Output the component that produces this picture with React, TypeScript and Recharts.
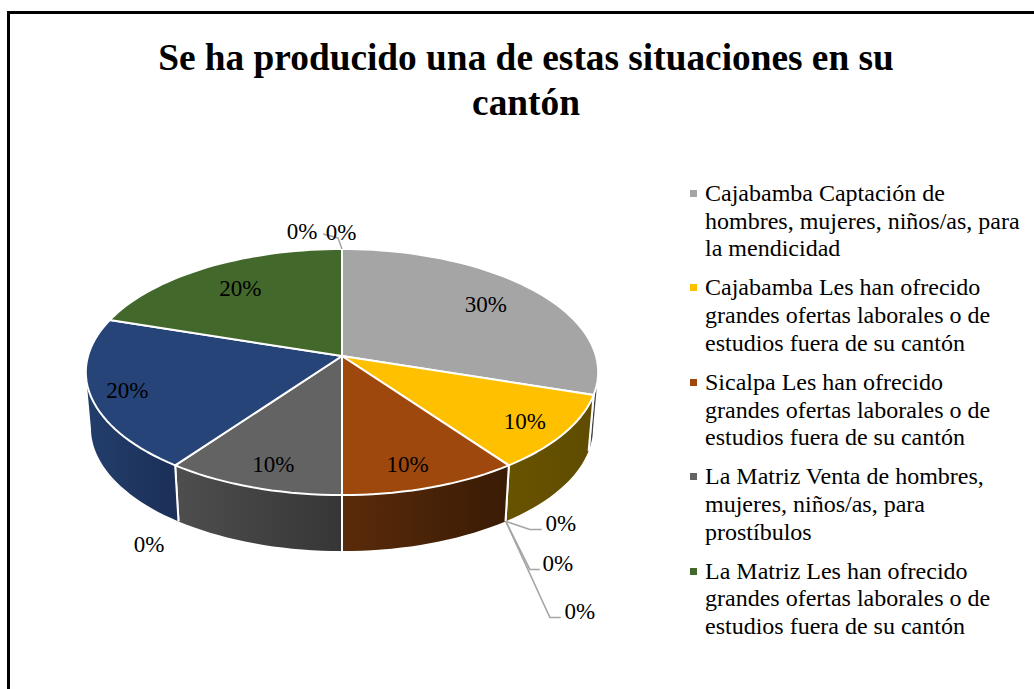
import { Legend, Pie, PieChart } from "recharts";

const categories = [
  "Cajabamba Captación de\nhombres, mujeres, niños/as, para\nla mendicidad",
  "Cajabamba Les han ofrecido\ngrandes ofertas laborales o de\nestudios fuera de su cantón",
  "Cajabamba Venta de hombres",
  "Sicalpa Captación de hombres",
  "Sicalpa Venta de hombres",
  "Sicalpa Les han ofrecido\ngrandes ofertas laborales o de\nestudios fuera de su cantón",
  "La Matriz Venta de hombres,\nmujeres, niños/as, para\nprostíbulos",
  "La Matriz Captación de hombres",
  "Guamote Captación de hombres",
  "La Matriz Les han ofrecido\ngrandes ofertas laborales o de\nestudios fuera de su cantón",
  "Guamote Venta de hombres",
  "Guamote Les han ofrecido",
];
const values = [30, 10, 0, 0, 0, 10, 10, 0, 20, 20, 0, 0];
const colors = [
  "#a5a5a5", "#ffc000", "#a5a5a5", "#a5a5a5", "#a5a5a5", "#9e480e",
  "#636363", "#a5a5a5", "#264478", "#43682b", "#a5a5a5", "#a5a5a5",
];
const wallLeft = [
  "#4a4a50", "#685300", "#000", "#000", "#000", "#5a2b0a",
  "#4e4e4e", "#000", "#233e6c", "#000", "#000", "#000",
];
const wallRight = [
  "#3f3f44", "#5f4c00", "#000", "#000", "#000", "#391b05",
  "#363636", "#000", "#1b2f57", "#000", "#000", "#000",
];
// slices named in the original legend (the blue one is missing there)
const legendIndexes = [0, 1, 5, 6, 9];

const data = categories.map((name, i) => ({ name, value: values[i], fill: colors[i] }));

const CX = 342;
const CY = 356;
const RADIUS = 254;
const FLATTEN = 121 / RADIUS;
const PERSPECTIVE = 0.13;
const DEPTH = 56;
const BOTTOM_SCALE = 0.98;
// angles where the drum's side leaves the silhouette
const RIGHT_EDGE = -7.5;
const LEFT_EDGE = -172.5;

// how far out along the slice the percent label sits, and a small nudge
const labelReach: Record<number, number> = { 0: 0.75, 1: 0.85, 5: 0.84, 6: 0.84, 8: 0.85, 9: 0.75 };
const labelNudge: Record<number, number[]> = {
  0: [-2, -1],
  1: [-4, 1],
  5: [-8, 1],
  6: [5, 1],
  8: [-2, 2],
  9: [2, 1],
};
// zero labels: offset from the rim, plus an optional leader line
const zeroLabels: Record<number, { dx: number; dy: number; leader?: number[][] }> = {
  2: { dx: 52, dy: 58, leader: [[-3, 56], [21, 64], [33, 64]] },
  3: { dx: 49, dy: 98, leader: [[-3, 56], [21, 104], [31, 104]] },
  4: { dx: 71, dy: 146, leader: [[-3, 56], [41, 152], [52, 152]] },
  7: { dx: -26, dy: 79 },
  10: { dx: -40, dy: -17 },
  11: { dx: -1, dy: -16, leader: [[0, 0], [-4, -11], [-19, -15]] },
};

// disc point, a = recharts angle (90 is the top, going down is clockwise)
function project(cx: number, cy: number, r: number, a: number, reach = 1) {
  const rad = (a * Math.PI) / 180;
  const u = Math.cos(rad) * reach;
  const v = -Math.sin(rad) * reach;
  const k = 1 / (1 - PERSPECTIVE * v);
  return { x: cx + r * u * k, y: cy + r * FLATTEN * v * k };
}

function arcPoints(cx: number, cy: number, r: number, from: number, to: number) {
  const steps = Math.max(2, Math.ceil(Math.abs(to - from) / 2));
  const pts = [];
  for (let i = 0; i <= steps; i++) {
    pts.push(project(cx, cy, r, from + ((to - from) * i) / steps));
  }
  return pts;
}

function toPath(pts: { x: number; y: number }[]) {
  return pts.map((p, i) => `${i ? "L" : "M"}${p.x.toFixed(1)} ${p.y.toFixed(1)}`).join(" ");
}

function TopFace(props: any) {
  const { cx, cy, outerRadius, startAngle, endAngle, fill } = props;
  if (startAngle === endAngle) return null;
  const pts = arcPoints(cx, cy, outerRadius, startAngle, endAngle);
  return <path d={`M${cx} ${cy} ${toPath(pts).replace("M", "L")} Z`} fill={fill} stroke="#fff" strokeWidth={2} strokeLinejoin="round" />;
}

function WallFace(props: any) {
  const { cx, cy, outerRadius, startAngle, endAngle, index } = props;
  // only the front of the drum shows
  const from = Math.min(startAngle, RIGHT_EDGE);
  const to = Math.max(endAngle, LEFT_EDGE);
  if (startAngle === endAngle || from <= to) return null;
  const top = arcPoints(cx, cy, outerRadius, from, to);
  const bottom = top.map((p) => ({ x: cx + (p.x - cx) * BOTTOM_SCALE, y: p.y + DEPTH }));
  const id = `wall-${index}`;
  const seam = (i: number) => (
    <line x1={top[i].x} y1={top[i].y} x2={bottom[i].x} y2={bottom[i].y} stroke="#fff" strokeWidth={2} />
  );
  return (
    <g>
      <defs>
        <linearGradient id={id} x1="0" y1="0" x2="1" y2="0">
          <stop offset="0%" stopColor={wallLeft[index]} />
          <stop offset="100%" stopColor={wallRight[index]} />
        </linearGradient>
      </defs>
      <path d={`${toPath(top)} ${toPath([...bottom].reverse()).replace("M", "L")} Z`} fill={`url(#${id})`} />
      {from === startAngle ? seam(0) : null}
      {to === endAngle ? seam(top.length - 1) : null}
    </g>
  );
}

function PercentLabel(props: any) {
  const { cx, cy, outerRadius, midAngle, index, percent } = props;
  const text = `${Math.round(percent * 100)}%`;
  const zero = zeroLabels[index];
  let x;
  let y;
  let leader = null;
  if (zero) {
    const rim = project(cx, cy, outerRadius, midAngle);
    x = rim.x + zero.dx;
    y = rim.y + zero.dy;
    if (zero.leader) {
      const line = zero.leader.map(([dx, dy]) => `${rim.x + dx},${rim.y + dy}`).join(" ");
      leader = <polyline points={line} fill="none" stroke="#a5a5a5" strokeWidth={1.5} />;
    }
  } else {
    const p = project(cx, cy, outerRadius, midAngle, labelReach[index]);
    x = p.x + labelNudge[index][0];
    y = p.y + labelNudge[index][1];
  }
  return (
    <g>
      {leader}
      <text x={x} y={y} textAnchor="middle" dominantBaseline="central" fontSize={23} fontFamily="'Liberation Serif'" fill="#000">
        {text}
      </text>
    </g>
  );
}

function SideLegend() {
  return (
    <div style={{ fontFamily: "'Liberation Serif'", fontSize: 24, lineHeight: "27.7px", color: "#000" }}>
      {legendIndexes.map((i) => (
        <div key={i} style={{ display: "flex", marginBottom: 11.3 }}>
          <span style={{ width: 7, height: 7, marginTop: 10, marginRight: 8, background: colors[i], flexShrink: 0 }} />
          <span style={{ whiteSpace: "pre-line" }}>{categories[i]}</span>
        </div>
      ))}
    </div>
  );
}

export default function App() {
  return (
    <div style={{ position: "absolute", left: 0, top: 0, width: 1034, height: 689, overflow: "hidden", background: "#fff" }}>
      <div style={{ position: "absolute", left: 7, top: 11, width: 1040, height: 700, border: "3px solid #000" }} />
      <div
        style={{
          position: "absolute",
          left: 126,
          top: 36,
          width: 800,
          textAlign: "center",
          fontFamily: "'Liberation Serif'",
          fontWeight: "bold",
          fontSize: 37.33,
          lineHeight: "44.5px",
          color: "#000",
        }}
      >
        Se ha producido una de estas situaciones en su
        <br />
        cantón
      </div>
      <PieChart width={1034} height={689} margin={{ top: 0, right: 0, bottom: 0, left: 0 }} style={{ position: "absolute", left: 0, top: 0 }}>
        <Pie
          data={data}
          dataKey="value"
          nameKey="name"
          cx={CX}
          cy={CY}
          outerRadius={RADIUS}
          startAngle={90}
          endAngle={-270}
          legendType="none"
          shape={WallFace}
          isAnimationActive={false}
        />
        <Pie
          data={data}
          dataKey="value"
          nameKey="name"
          cx={CX}
          cy={CY}
          outerRadius={RADIUS}
          startAngle={90}
          endAngle={-270}
          shape={TopFace}
          label={PercentLabel}
          labelLine={false}
          isAnimationActive={false}
        />
        <Legend
          content={SideLegend}
          wrapperStyle={{ position: "absolute", left: 690, top: 180, right: "auto", bottom: "auto", width: 344 }}
        />
      </PieChart>
    </div>
  );
}
